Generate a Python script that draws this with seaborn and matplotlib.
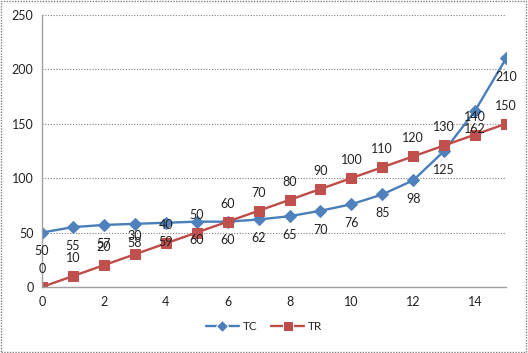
import pandas as pd
import seaborn as sns
import matplotlib.pyplot as plt
from matplotlib.patches import Rectangle

# data
quantity = list(range(16))
tc = [50, 55, 57, 58, 59, 60, 60, 62, 65, 70, 76, 85, 98, 125, 162, 210]
tr = [0, 10, 20, 30, 40, 50, 60, 70, 80, 90, 100, 110, 120, 130, 140, 150]
x_ticks = [0, 2, 4, 6, 8, 10, 12, 14]
y_ticks = [0, 50, 100, 150, 200, 250]

df = pd.DataFrame({"Q": quantity * 2,
                   "value": tc + tr,
                   "series": ["TC"] * len(tc) + ["TR"] * len(tr)})

sns.set_style("white")
plt.rcParams["font.family"] = ["Lato", "DejaVu Sans"]

fig = plt.figure(figsize=(5.28, 3.53), dpi=100)
ax = fig.add_axes([0.0795, 0.187, 0.879, 0.771])

pal = {"TC": "#4A7EBB", "TR": "#BE4B48"}
sns.lineplot(data=df, x="Q", y="value", hue="series", style="series",
             markers={"TC": "D", "TR": "s"}, dashes=False, palette=pal,
             markersize=6.5, linewidth=1.7, ax=ax, legend=True)
for line, fc in zip(ax.lines, ["#4F81BD", "#C0504D"]):
    line.set_markerfacecolor(fc)
    line.set_markeredgecolor(fc)

# data labels
for x, v in zip(quantity, tc):
    ax.annotate(str(v), (x, v), xytext=(0, -13.5), textcoords="offset points",
                ha="center", va="center", fontsize=9, color="#222222")
for x, v in zip(quantity, tr):
    ax.annotate(str(v), (x, v), xytext=(0, 13), textcoords="offset points",
                ha="center", va="center", fontsize=9, color="#222222")

ax.set_xlim(0, 15)
ax.set_ylim(0, 250)
ax.set_xticks(x_ticks)
ax.set_yticks(y_ticks)
ax.tick_params(labelsize=9, colors="#222222", length=3)
ax.tick_params(axis="x", direction="out", color="#A0A0A0")
ax.tick_params(axis="y", length=0, pad=6)
ax.set_xlabel("")
ax.set_ylabel("")
ax.yaxis.grid(True, linestyle=(0, (1, 1.5)), color="#808080", linewidth=0.8)
ax.set_axisbelow(True)
for side in ["top", "right"]:
    ax.spines[side].set_visible(False)
for side in ["left", "bottom"]:
    ax.spines[side].set_color("#A0A0A0")
    ax.spines[side].set_linewidth(1)
ax.set_facecolor("white")

ax.legend(loc="center", bbox_to_anchor=(0.5, 0.076), bbox_transform=fig.transFigure,
          ncol=2, frameon=False, fontsize=8.5, handlelength=2.8, columnspacing=1.2,
          handletextpad=0.3, title=None)

fig.patches.append(Rectangle((0.002, 0.003), 0.995, 0.993, transform=fig.transFigure,
                             fill=False, edgecolor="#808080", linestyle=(0, (1, 1)),
                             linewidth=1))

fig.savefig("out.png", dpi=100)
